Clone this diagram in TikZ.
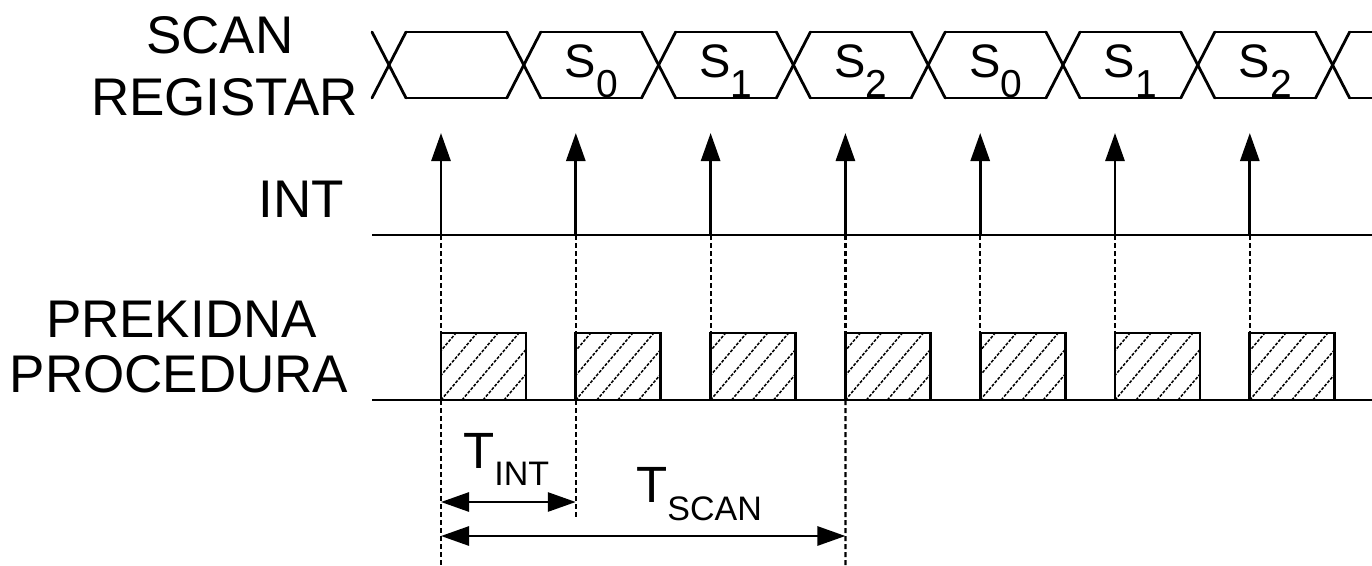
\documentclass[tikz,border=0pt]{standalone}
\usepackage{fontspec}
\setmainfont{Liberation Sans}
\usetikzlibrary{arrows.meta}
\begin{document}
\begin{tikzpicture}[x=1pt,y=-1pt,
  wire/.style={line width=2.8pt,line cap=round},
  guide/.style={line width=2.2pt,dash pattern=on 5pt off 3pt},
  intarrow/.style={line width=2.8pt,-{Triangle[length=28pt,width=19pt]}},
  dimarrow/.style={line width=2.8pt,{Triangle[length=28pt,width=19pt]}-{Triangle[length=28pt,width=19pt]}},
  lbl/.style={inner sep=0pt,font=\fontsize{53}{53}\selectfont},
  slabel/.style={inner sep=0pt,anchor=base,font=\fontsize{47}{47}\selectfont},
  tlabel/.style={inner sep=0pt,anchor=base west,font=\fontsize{51}{51}\selectfont},
  hatchbox/.style={line width=2.8pt},
  hatch/.style={line width=1.5pt,dash pattern=on 3pt off 1.5pt},
]
\useasboundingbox (0,0) rectangle (1372,565);
\fill[white] (0,0) rectangle (1372,565);

% bus crossings
\foreach \k in {0,...,7} {
  \pgfmathsetmacro\c{389+134.8*\k}
  \draw[wire] (\c-17,32) -- (\c+17,98);
  \draw[wire] (\c-17,98) -- (\c+17,32);
}
\foreach \k in {0,...,6} {
  \pgfmathsetmacro\c{389+134.8*\k}
  \pgfmathsetmacro\d{389+134.8*(\k+1)}
  \draw[wire] (\c+17,32) -- (\d-17,32);
  \draw[wire] (\c+17,98) -- (\d-17,98);
}
\draw[wire] (1349.6,32) -- (1372,32);
\draw[wire] (1349.6,98) -- (1372,98);

% bus labels
\foreach \k/\s in {1/0,2/1,3/2,4/0,5/1,6/2} {
  \pgfmathsetmacro\m{389+134.8*\k+67.4}
  \node[slabel] (s\k) at (\m,77) {S\raisebox{-20pt}{\fontsize{39}{39}\selectfont \s}};
}

% baselines
\coordinate (intL) at (372,235);
\coordinate (intR) at (1372,235);
\coordinate (prL) at (372,400);
\coordinate (prR) at (1372,400);
\draw[wire,line cap=butt] (intL) -- (intR);
\draw[wire,line cap=butt] (prL) -- (prR);

% interrupts and procedures
\foreach \k in {0,...,6} {
  \pgfmathsetmacro\a{441+134.8*\k}
  \coordinate (ib\k) at (\a,235);
  \coordinate (it\k) at (\a,133);
  \coordinate (pb\k) at (\a,400);
  \draw[guide] (ib\k) -- (pb\k);
  \draw[intarrow] (ib\k) -- (it\k);
  \begin{scope}
    \clip (\a,400) rectangle ++(85,-67);
    \foreach \i in {-4,...,4} {
      \draw[hatch] ({\a+\i*21},400) -- ++(57,-67);
    }
  \end{scope}
  \draw[hatchbox] (\a,400) rectangle ++(85,-67);
}

% extended guides
\coordinate (g0) at (441,565);
\coordinate (g1) at (575.8,518);
\coordinate (g3) at (845.4,565);
\draw[guide] (pb0) -- (g0);
\draw[guide] (pb1) -- (g1);
\draw[guide] (pb3) -- (g3);

% dimension arrows
\coordinate (d0) at (441,502);
\coordinate (d1) at (575.8,502);
\coordinate (e0) at (441,536);
\coordinate (e1) at (845.4,536);
\draw[dimarrow] (d0) -- (d1);
\draw[dimarrow] (e0) -- (e1);

\node[tlabel] (tint) at (463,468) {T\raisebox{-17pt}{\fontsize{34}{34}\selectfont INT}};
\node[tlabel] (tscan) at (636,502) {T\raisebox{-18pt}{\fontsize{34}{34}\selectfont SCAN}};

% signal names
\node[lbl,anchor=base] (scan) at (220,53) {SCAN};
\node[lbl,anchor=base] (reg) at (224.5,115) {REGISTAR};
\node[lbl,anchor=base] (int) at (301,217) {INT};
\node[lbl,anchor=base] (prek) at (181.5,337) {PREKIDNA};
\node[lbl,anchor=base] (proc) at (179,392) {PROCEDURA};
\end{tikzpicture}
\end{document}
